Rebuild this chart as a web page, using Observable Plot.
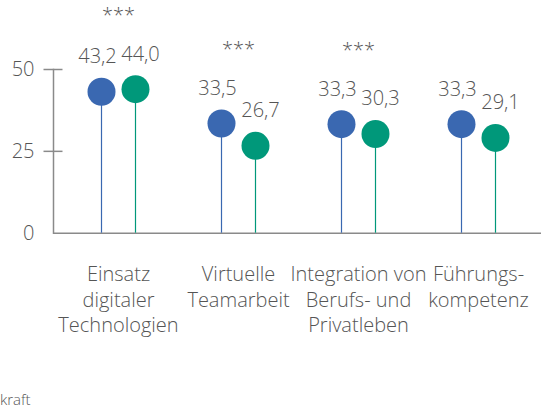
<!DOCTYPE html>
<html>
<head>
<meta charset="utf-8">
<script src="https://cdn.jsdelivr.net/npm/d3@7"></script>
<script src="https://cdn.jsdelivr.net/npm/@observablehq/plot@0.6"></script>
<style>
  html, body { margin: 0; padding: 0; background: #fff; overflow: hidden; }
  #chart svg { display: block; overflow: visible; }
  .caption { font-family: "Open Sans", sans-serif; font-weight: 300; font-size: 15px; line-height: 22px; color: #555; margin: 0; padding: 0; white-space: nowrap; }
</style>
</head>
<body>
<div id="chart"></div>
<div class="caption">kraft</div>
<script>
// ---- data ----
const categories = [
  "Einsatz\ndigitaler\nTechnologien",
  "Virtuelle\nTeamarbeit",
  "Integration von\nBerufs- und\nPrivatleben",
  "Führungs-\nkompetenz"
];
const seriesBlue  = [43.2, 33.5, 33.3, 33.3];
const seriesGreen = [44.0, 26.7, 30.3, 29.1];
const significance = ["***", "***", "***", ""];
const yTicks = [0, 25, 50];

// ---- table built from arrays ----
const rows = categories.map((c, i) => ({
  cat: c, blue: seriesBlue[i], green: seriesGreen[i],
  sig: significance[i], max: Math.max(seriesBlue[i], seriesGreen[i])
}));
const fmt = d => d.toFixed(1).replace(".", ",");

const BLUE = "#3a68b1", GREEN = "#00987a", GRAY = "#555", AXIS = "#8a8a8a";
const FONT = "Open Sans, sans-serif";
const W = 541, H = 388;

const chart = Plot.plot({
  width: W, height: H,
  marginLeft: 53, marginRight: 0, marginTop: 69, marginBottom: H - 232.7,
  style: { fontFamily: FONT, fontWeight: 300, fontSize: "20px", color: GRAY, background: "#fff" },
  x: { type: "band", domain: categories, range: [56.7, 539.3], padding: 0, label: null },
  y: { domain: [0, 50], label: null },
  marks: [
    // y axis line (left side of frame), ticks crossing it, labels
    Plot.frame({ anchor: "left", stroke: AXIS, strokeWidth: 1.5 }),
    Plot.ruleY(yTicks.filter(d => d !== 0), { stroke: AXIS, strokeWidth: 1.5, insetLeft: -9.5, insetRight: W - 53 - 9.5 }),
    Plot.axisY({ ticks: yTicks, tickSize: 0, tickPadding: 19, tickFormat: d => String(d), fill: GRAY, fontSize: 20, fontWeight: 300 }),
    // baseline
    Plot.ruleY([0], { stroke: AXIS, strokeWidth: 1.5 }),
    // category labels
    Plot.axisX({ tickSize: 0, tickPadding: 30, lineAnchor: "top", lineHeight: 1.275, fill: GRAY, fontSize: 20, fontWeight: 300 }),
    // stems
    Plot.ruleX(rows, { x: "cat", y1: 0, y2: "blue", stroke: BLUE, strokeWidth: 1.2, dx: -17 }),
    Plot.ruleX(rows, { x: "cat", y1: 0, y2: "green", stroke: GREEN, strokeWidth: 1.2, dx: 17 }),
    // dots
    Plot.dot(rows, { x: "cat", y: "blue", r: 14, fill: BLUE, stroke: null, dx: -17 }),
    Plot.dot(rows, { x: "cat", y: "green", r: 14, fill: GREEN, stroke: null, dx: 17 }),
    // value labels
    Plot.text(rows, { x: "cat", y: "blue", text: d => fmt(d.blue), dx: -21, dy: -35, fill: GRAY, fontSize: 20, fontWeight: 300 }),
    Plot.text(rows, { x: "cat", y: "green", text: d => fmt(d.green), dx: 22, dy: -35, fill: GRAY, fontSize: 20, fontWeight: 300 }),
    // significance stars
    Plot.text(rows, { x: "cat", y: "max", text: "sig", dy: -74, fill: GRAY, fontSize: 20, fontWeight: 300 })
  ]
});
document.getElementById("chart").append(chart);
</script>
</body>
</html>
